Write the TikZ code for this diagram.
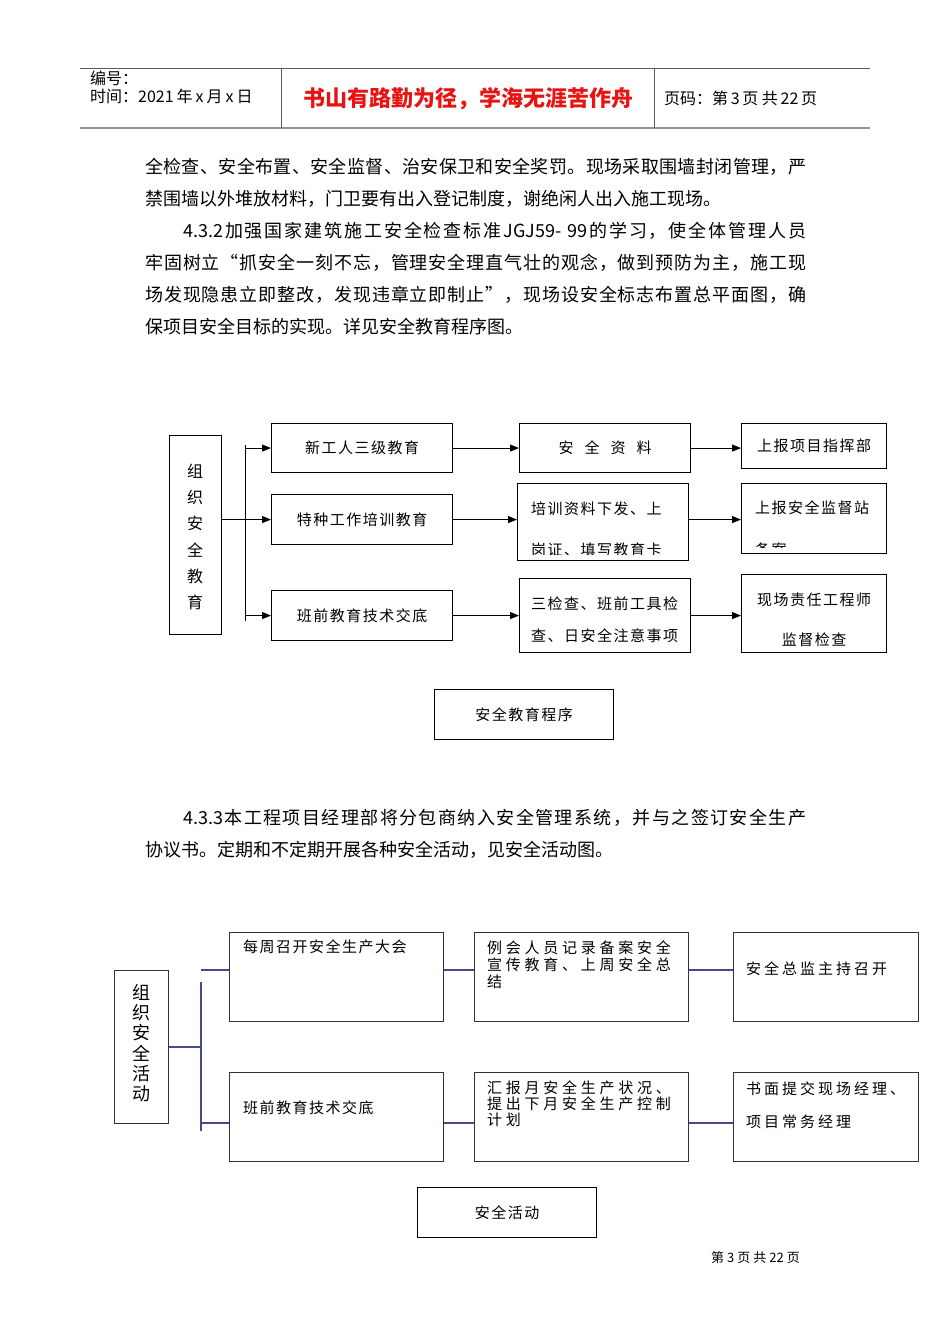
\documentclass[tikz,border=0pt]{standalone}
\usepackage{fontspec}
\setmainfont{Noto Sans CJK SC}
\newfontfamily\cjkA[LetterSpace=10]{Noto Sans CJK SC}
\newfontfamily\cjkB[LetterSpace=20]{Noto Sans CJK SC}
\newfontfamily\cjkC[LetterSpace=25]{Noto Sans CJK SC}
\usetikzlibrary{arrows.meta}
\definecolor{linkblue}{RGB}{72,72,140}
\definecolor{hdrgray}{RGB}{90,90,90}
\definecolor{titlered}{RGB}{232,20,20}
\makeatletter
\def\spr#1{\spr@b#1\relax}
\def\spr@b#1{#1\spr@a}
\def\spr@a#1{\ifx#1\relax\else\hskip0pt plus1fil\relax#1\expandafter\spr@a\fi}
\makeatother
\def\secA{\mbox{4.3.2}}
\def\secB{\mbox{4.3.3}}
\def\stdname{\mbox{JGJ59-\,\,99}}
\tikzset{
  bx/.style={draw=black, line width=1.1pt, inner sep=0pt, anchor=north west, font=\cjkA\fontsize{15}{18}\selectfont},
  bxd/.style={draw=black!80, line width=1.3pt, inner sep=0pt, anchor=north west},
  arr/.style={-{Triangle[length=9pt,width=7pt]}, line width=1pt},
  lk/.style={draw=linkblue, line width=1.6pt},
  txt/.style={inner sep=0pt, anchor=west},
  dt/.style={inner sep=0pt, anchor=west, font=\cjkA\fontsize{15}{18}\selectfont},
  dtc/.style={inner sep=0pt, font=\cjkA\fontsize{15}{18}\selectfont},
  dtw/.style={inner sep=0pt, anchor=west, font=\cjkC\fontsize{15}{18}\selectfont},
  dtm/.style={inner sep=0pt, anchor=west, font=\cjkB\fontsize{15}{18}\selectfont},
  para/.style={inner sep=0pt, anchor=west, font=\fontsize{18}{20}\selectfont},
}
\begin{document}
\begin{tikzpicture}[x=1pt,y=-1pt]
\fill[white] (0,0) rectangle (950,1344);
\useasboundingbox (0,0) rectangle (950,1344);

% ---------- header ----------
\draw[hdrgray, line width=0.8pt] (80,68) -- (870,68);
\draw[gray!85, line width=2.2pt] (80,128) -- (870,128);
\draw[hdrgray, line width=0.8pt] (281,68) -- (281,128);
\draw[hdrgray, line width=0.8pt] (654,68) -- (654,128);
\node[txt, font=\fontsize{16}{16}\selectfont] (h1) at (90,78) {编号：};
\node[txt, font=\fontsize{16}{16}\selectfont] (h2) at (90,96) {时间：2021\hspace{3pt}年\hspace{3pt}x\hspace{3pt}月\hspace{3pt}x\hspace{3pt}日};
\node[inner sep=0pt, font=\fontsize{22}{24}\selectfont\bfseries, text=titlered] (title) at (468,99) {书山有路勤为径，学海无涯苦作舟};
\node[txt, font=\fontsize{16}{16}\selectfont] (h3) at (664,98) {页码：第\,3\,页\ 共\,22\,页};

% ---------- paragraph 1 ----------
\node[para] (p1) at (145,167) {\makebox[661pt][s]{\spr{全检查、安全布置、安全监督、治安保卫和安全奖罚。现场采取围墙封闭管理，严}}};
\node[para] (p2) at (145,199) {禁围墙以外堆放材料，门卫要有出入登记制度，谢绝闲人出入施工现场。};
\node[para] (p3) at (183,231) {\makebox[623pt][s]{\spr{\secA 加强国家建筑施工安全检查标准\stdname 的学习，使全体管理人员}}};
\node[para] (p4) at (145,263) {\makebox[661pt][s]{\spr{牢固树立“抓安全一刻不忘，管理安全理直气壮的观念，做到预防为主，施工现}}};
\node[para] (p5) at (145,295) {\makebox[661pt][s]{\spr{场发现隐患立即整改，发现违章立即制止”，现场设安全标志布置总平面图，确}}};
\node[para] (p6) at (145,327) {保项目安全目标的实现。详见安全教育程序图。};

% ---------- diagram 1 ----------
\node[bx, minimum width=52pt, minimum height=199pt] (L1) at (169,435) {};
\node[inner sep=0pt, align=center, font=\fontsize{16}{26.2}\selectfont] (L1t) at (195,537) {组\\织\\安\\全\\教\\育};

\node[bx, minimum width=181pt, minimum height=49pt] (c1a) at (271,423) {新工人三级教育};
\node[bx, minimum width=181pt, minimum height=50pt] (c1b) at (271,494) {特种工作培训教育};
\node[bx, minimum width=181pt, minimum height=50pt] (c1c) at (271,590) {班前教育技术交底};

\node[bx, minimum width=171pt, minimum height=49pt] (c2a) at (519,423) {安\hspace{11pt}全\hspace{11pt}资\hspace{11pt}料};
\node[bx, minimum width=171pt, minimum height=77pt] (c2b) at (517,483) {};
\node[bx, minimum width=171pt, minimum height=74pt] (c2c) at (519,578) {};

\node[bx, minimum width=145pt, minimum height=45pt] (c3a) at (741,423) {上报项目指挥部};
\node[bx, minimum width=145pt, minimum height=70pt] (c3b) at (741,483) {};
\node[bx, minimum width=145pt, minimum height=78pt] (c3c) at (741,574) {};

\node[dt] (c2bt1) at (531,509) {培训资料下发、上};
\begin{scope}
\clip (517,483) rectangle (688,554);
\node[dt] (c2bt2) at (531,550) {岗证、填写教育卡};
\end{scope}
\node[dt] (c3bt1) at (755,508) {上报安全监督站};
\begin{scope}
\clip (741,483) rectangle (886,547);
\node[dt] (c3bt2) at (755,549.5) {备案};
\end{scope}
\node[dt] (c2ct1) at (531,604) {三检查、班前工具检};
\node[dt] (c2ct2) at (531,636) {查、日安全注意事项};
\node[dtc] (c3ct1) at (814,600) {现场责任工程师};
\node[dtc] (c3ct2) at (814,640) {监督检查};

\coordinate (tt) at (245,445);
\coordinate (tb) at (245,621);
\draw[line width=1pt] (tt) -- (tb);
\draw[arr] (tt |- c1a.west) -- (c1a.west);
\draw[arr] (L1.east |- c1b.west) -- (c1b.west);
\draw[arr] (tt |- c1c.west) -- (c1c.west);
\draw[arr] (c1a.east) -- (c1a.east -| c2a.west);
\draw[arr] (c1b.east) -- (c1b.east -| c2b.west);
\draw[arr] (c1c.east) -- (c1c.east -| c2c.west);
\draw[arr] (c2a.east) -- (c2a.east -| c3a.west);
\draw[arr] (c1b.east -| c2b.east) -- (c1b.east -| c3b.west);
\draw[arr] (c2c.east) -- (c2c.east -| c3c.west);

\node[bx, line width=1pt, minimum width=179pt, minimum height=50pt] (cap1) at (434,689) {安全教育程序};

% ---------- paragraph 2 ----------
\node[para] (p7) at (183,818) {\makebox[623pt][s]{\spr{\secB 本工程项目经理部将分包商纳入安全管理系统，并与之签订安全生产}}};
\node[para] (p8) at (145,850) {协议书。定期和不定期开展各种安全活动，见安全活动图。};

% ---------- diagram 2 ----------
\node[bxd, minimum width=54pt, minimum height=153pt] (L2) at (114,970) {};
\node[inner sep=0pt, align=center, font=\fontsize{18}{20.3}\selectfont] (L2t) at (141,1043) {组\\织\\安\\全\\活\\动};

\node[bxd, minimum width=214pt, minimum height=89pt] (d1a) at (229,932) {};
\node[bxd, minimum width=214pt, minimum height=89pt] (d1b) at (229,1072) {};
\node[bxd, minimum width=214pt, minimum height=89pt] (d2a) at (474,932) {};
\node[bxd, minimum width=214pt, minimum height=89pt] (d2b) at (474,1072) {};
\node[bxd, minimum width=185pt, minimum height=89pt] (d3a) at (733,932) {};
\node[bxd, minimum width=185pt, minimum height=89pt] (d3b) at (733,1072) {};

\node[dt] (d1at) at (243,947) {每周召开安全生产大会};
\node[dt] (d1bt) at (243,1108) {班前教育技术交底};
\node[dtw] (d2at1) at (487,948) {例会人员记录备案安全};
\node[dtw] (d2at2) at (487,965) {宣传教育、上周安全总};
\node[dtw] (d2at3) at (487,982) {结};
\node[dtw] (d2bt1) at (487,1088) {汇报月安全生产状况、};
\node[dtw] (d2bt2) at (487,1104) {提出下月安全生产控制};
\node[dtw] (d2bt3) at (487,1120) {计划};
\node[dtm] (d3at) at (746,969) {安全总监主持召开};
\node[dtm] (d3bt1) at (746,1089) {书面提交现场经理、};
\node[dtm] (d3bt2) at (746,1122) {项目常务经理};

\coordinate (u1) at (201,982);
\coordinate (u2) at (201,1131);
\coordinate (s1) at (201,970);
\coordinate (s2) at (201,1123);
\draw[lk] (u1) -- (u2);
\draw[lk] (L2.east) -- (L2.east -| u1);
\draw[lk] (s1) -- (s1 -| d1a.west);
\draw[lk] (s2) -- (s2 -| d1b.west);
\draw[lk] (s1 -| d1a.east) -- (s1 -| d2a.west);
\draw[lk] (s2 -| d1b.east) -- (s2 -| d2b.west);
\draw[lk] (s1 -| d2a.east) -- (s1 -| d3a.west);
\draw[lk] (s2 -| d2b.east) -- (s2 -| d3b.west);

\node[bx, line width=1pt, minimum width=179pt, minimum height=50pt] (cap2) at (417,1187) {安全活动};

% ---------- footer ----------
\node[txt, font=\fontsize{13}{14}\selectfont] (foot) at (711,1258) {第\hspace{3pt}3\hspace{3pt}页\hspace{3pt}共\hspace{3pt}22\hspace{3pt}页};
\end{tikzpicture}
\end{document}
